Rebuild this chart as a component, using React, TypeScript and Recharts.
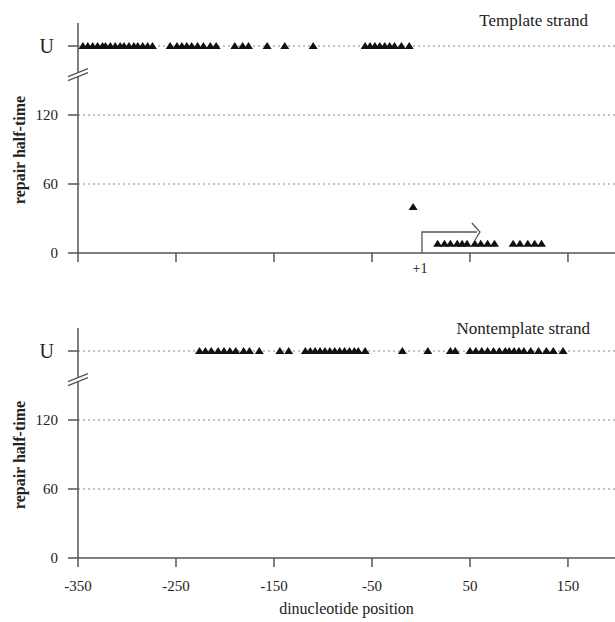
import React from 'react';
import { ScatterChart, Scatter, XAxis, YAxis, ReferenceDot, ReferenceLine } from 'recharts';

// dinucleotide positions and repair half-times
const xTicks = [-350, -250, -150, -50, 50, 150];
const yTicks = [0, 60, 120, 180];
const gridValues = [60, 120, 180];
const U_VALUE = 180; // "U" = unrepaired
const BREAK_VALUE = 156;

const templateUnrepaired = [
  -345, -340, -335, -330, -325, -322, -317, -312, -307, -303, -298, -293, -289, -284, -279, -274,
  -256, -249, -244, -239, -234, -228, -222, -215, -209, -190, -182, -176, -157, -139, -110,
  -57, -52, -47, -42, -37, -32, -27, -20, -12,
];
const templateRepairedPos = [-8, 17, 24, 30, 37, 42, 47, 55, 61, 68, 75, 94, 101, 109, 116, 123];
const templateRepairedTime = [40, 8, 8, 8, 8, 8, 8, 8, 8, 8, 8, 8, 8, 8, 8, 8];

const nontemplateUnrepaired = [
  -226, -220, -214, -207, -201, -195, -189, -181, -175, -165, -144, -135,
  -118, -113, -108, -103, -98, -93, -88, -83, -78, -73, -68, -64, -57,
  -19, 7, 30, 35,
  50, 56, 62, 68, 74, 80, 86, 90, 95, 100, 105, 112, 120, 128, 135, 145,
];

const templateU = templateUnrepaired.map((x) => ({ x, y: U_VALUE }));
const templateR = templateRepairedPos.map((x, i) => ({ x, y: templateRepairedTime[i] }));
const nontemplateU = nontemplateUnrepaired.map((x) => ({ x, y: U_VALUE }));

const FONT = '"Liberation Serif", "DejaVu Serif", serif';
const AXIS = '#555';
const INK = '#222';

const Triangle = (p: any) => (
  <polygon points={`${p.cx},${p.cy - 4} ${p.cx + 4.5},${p.cy + 3} ${p.cx - 4.5},${p.cy + 3}`} fill="#111" />
);

const YTick = ({ x, y, payload }: any) => {
  const isU = payload.value === U_VALUE;
  return (
    <text x={isU ? x - 4 : x} y={y} dy={isU ? 7 : 5} textAnchor="end" fontSize={isU ? 20 : 15} fontFamily={FONT} fill={INK}>
      {isU ? 'U' : payload.value}
    </text>
  );
};

const NoTick = () => <g />;

const AxisBreak = (p: any) => (
  <g>
    <polygon points={`${p.cx - 10},${p.cy + 3} ${p.cx + 10},${p.cy - 5} ${p.cx + 10},${p.cy - 1} ${p.cx - 10},${p.cy + 7}`} fill="#fff" />
    <line x1={p.cx - 10} y1={p.cy + 3} x2={p.cx + 10} y2={p.cy - 5} stroke={AXIS} strokeWidth={1.3} />
    <line x1={p.cx - 10} y1={p.cy + 7} x2={p.cx + 10} y2={p.cy - 1} stroke={AXIS} strokeWidth={1.3} />
  </g>
);

const StartArrow = (p: any) => (
  <g>
    <path d={`M${p.cx},${p.cy} V${p.cy - 21} H${p.cx + 55}`} fill="none" stroke={AXIS} strokeWidth={1.3} />
    <path d={`M${p.cx + 50},${p.cy - 30} L${p.cx + 58},${p.cy - 21} L${p.cx + 53},${p.cy - 13}`} fill="none" stroke={AXIS} strokeWidth={1.3} />
    <text x={p.cx - 2} y={p.cy + 20} textAnchor="middle" style={{ fontSize: 14, fontFamily: FONT }} fill={INK}>
      +1
    </text>
  </g>
);

function Panel({ height, top, bottom, series, showLabels }: any) {
  return (
    <ScatterChart width={615} height={height} margin={{ top, right: 0, bottom: 0, left: 0 }}>
      {gridValues.map((v) => (
        <ReferenceLine key={v} y={v} stroke="#888" strokeDasharray="2 3" />
      ))}
      <XAxis
        type="number"
        dataKey="x"
        domain={[-350, 198]}
        ticks={xTicks}
        interval={0}
        height={bottom}
        stroke={AXIS}
        axisLine={{ stroke: AXIS, strokeWidth: 1.5 }}
        tickLine={{ stroke: AXIS, strokeWidth: 1.5 }}
        tickSize={9}
        tickMargin={13}
        tick={showLabels ? { fontSize: 15, fontFamily: FONT, fill: INK } : <NoTick />}
        label={
          showLabels
            ? { value: 'dinucleotide position', position: 'insideBottom', offset: 8, fontSize: 16, fontFamily: FONT, fill: INK }
            : undefined
        }
      />
      <YAxis
        type="number"
        dataKey="y"
        domain={[0, 200]}
        ticks={yTicks}
        interval={0}
        width={78}
        stroke={AXIS}
        axisLine={{ stroke: AXIS, strokeWidth: 1.5 }}
        tickLine={{ stroke: AXIS, strokeWidth: 1.5 }}
        tickSize={10}
        tickMargin={10}
        tick={<YTick />}
      />
      {series.map((s: any, i: number) => (
        <Scatter key={i} data={s} shape={Triangle} isAnimationActive={false} />
      ))}
      <ReferenceDot x={-350} y={BREAK_VALUE} shape={AxisBreak} ifOverflow="visible" />
      {!showLabels && <ReferenceDot x={1} y={0} shape={StartArrow} ifOverflow="visible" />}
    </ScatterChart>
  );
}

export default function App() {
  return (
    <div style={{ position: 'absolute', left: 0, top: 0, width: 615, height: 622, background: '#fff' }}>
      <Panel height={300} top={23} bottom={47} series={[templateU, templateR]} showLabels={false} />
      <Panel height={322} top={28} bottom={64} series={[nontemplateU]} showLabels={true} />
      <svg width={615} height={622} style={{ position: 'absolute', left: 0, top: 0, pointerEvents: 'none' }}>
        <g fontFamily={FONT} fill={INK}>
          <text x={588} y={26} textAnchor="end" fontSize={17}>Template strand</text>
          <text x={590} y={334} textAnchor="end" fontSize={17}>Nontemplate strand</text>
          <text transform="translate(25,150) rotate(-90)" textAnchor="middle" fontSize={16} fontWeight="bold">repair half-time</text>
          <text transform="translate(25,455) rotate(-90)" textAnchor="middle" fontSize={16} fontWeight="bold">repair half-time</text>
        </g>
      </svg>
    </div>
  );
}
